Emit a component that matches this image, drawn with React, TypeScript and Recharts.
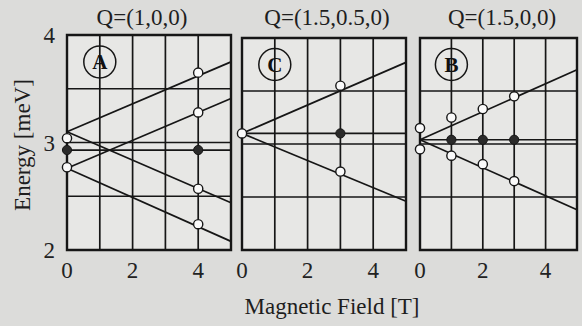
import { ComposedChart, Line, Scatter, XAxis, YAxis, CartesianGrid, ReferenceArea, ReferenceDot } from "recharts";

type Pt = { x: number; y: number };

// panel A, Q=(1,0,0)
const aLines: Pt[][] = [
  [{ x: 0, y: 3.1 }, { x: 5, y: 3.75 }],
  [{ x: 0, y: 2.76 }, { x: 5, y: 3.41 }],
  [{ x: 0, y: 3.1 }, { x: 5, y: 2.44 }],
  [{ x: 0, y: 2.76 }, { x: 5, y: 2.08 }],
  [{ x: 0, y: 2.93 }, { x: 5, y: 2.93 }],
];
const aOpen: Pt[] = [
  { x: 0, y: 3.04 }, { x: 0, y: 2.77 },
  { x: 4, y: 3.65 }, { x: 4, y: 3.28 }, { x: 4, y: 2.57 }, { x: 4, y: 2.24 },
];
const aFilled: Pt[] = [{ x: 0, y: 2.93 }, { x: 4, y: 2.93 }];

// panel C, Q=(1.5,0.5,0)
const cLines: Pt[][] = [
  [{ x: 0, y: 3.1 }, { x: 5, y: 3.77 }],
  [{ x: 0, y: 3.1 }, { x: 5, y: 3.1 }],
  [{ x: 0, y: 3.1 }, { x: 5, y: 2.46 }],
];
const cOpen: Pt[] = [{ x: 0, y: 3.1 }, { x: 3, y: 3.55 }, { x: 3, y: 2.74 }];
const cFilled: Pt[] = [{ x: 3, y: 3.1 }];

// panel B, Q=(1.5,0,0)
const bLines: Pt[][] = [
  [{ x: 0, y: 3.04 }, { x: 5, y: 3.7 }],
  [{ x: 0, y: 3.04 }, { x: 5, y: 3.04 }],
  [{ x: 0, y: 3.04 }, { x: 5, y: 2.38 }],
];
const bOpen: Pt[] = [
  { x: 0, y: 3.15 }, { x: 0, y: 2.95 },
  { x: 1, y: 3.25 }, { x: 2, y: 3.33 }, { x: 3, y: 3.45 },
  { x: 1, y: 2.89 }, { x: 2, y: 2.81 }, { x: 3, y: 2.65 },
];
const bFilled: Pt[] = [{ x: 1, y: 3.04 }, { x: 2, y: 3.04 }, { x: 3, y: 3.04 }];

const xTicks = [0, 1, 2, 3, 4, 5];
const yTicks = [2, 2.5, 3, 3.5, 4];
const INK = "#161616";
const FONT = "'Liberation Serif', 'DejaVu Serif', serif";
const FS = 23;

const openDot = (p: any) => <circle cx={p.cx} cy={p.cy} r={4.6} fill="#fafafa" stroke={INK} strokeWidth={1.4} />;
const filledDot = (p: any) => <circle cx={p.cx} cy={p.cy} r={4.6} fill="#2a2a2a" stroke={INK} strokeWidth={1} />;

type PanelProps = {
  left: number;
  top: number;
  width: number;
  margin: { top: number; right: number; bottom: number; left: number };
  showY: boolean;
  letter: string;
  lines: Pt[][];
  open: Pt[];
  filled: Pt[];
};

function Panel({ left, top, width, margin, showY, letter, lines, open, filled }: PanelProps) {
  return (
    <div style={{ position: "absolute", left, top }}>
      <ComposedChart width={width} height={290} margin={margin}>
        <CartesianGrid stroke={INK} strokeWidth={1.7} fill="#e7e7e5" fillOpacity={1} />
        <XAxis
          type="number"
          dataKey="x"
          domain={[0, 5]}
          ticks={xTicks}
          tickFormatter={(v: number) => (v % 2 === 0 && v < 5 ? String(v) : "")}
          axisLine={false}
          tickLine={false}
          tickSize={0}
          tickMargin={12}
          height={40}
          tick={{ fill: "#222", fontSize: FS, fontFamily: FONT }}
        />
        <YAxis
          type="number"
          dataKey="y"
          domain={[2, 4]}
          ticks={yTicks}
          tickFormatter={(v: number) => (Number.isInteger(v) ? String(v) : "")}
          hide={!showY}
          width={showY ? 67 : 0}
          axisLine={false}
          tickLine={false}
          tickSize={0}
          tickMargin={12}
          tick={{ fill: "#222", fontSize: FS, fontFamily: FONT }}
        />
        <ReferenceArea x1={0} x2={5} y1={2} y2={4} fill="none" stroke={INK} strokeWidth={2.4} />
        {lines.map((seg, i) => (
          <Line
            key={i}
            data={seg}
            dataKey="y"
            type="linear"
            stroke={INK}
            strokeWidth={1.7}
            dot={false}
            activeDot={false}
            isAnimationActive={false}
          />
        ))}
        <Scatter data={open} dataKey="y" shape={openDot} isAnimationActive={false} />
        <Scatter data={filled} dataKey="y" shape={filledDot} isAnimationActive={false} />
        <ReferenceDot
          x={1}
          y={3.75}
          r={16}
          fill="none"
          stroke={INK}
          strokeWidth={1.5}
          label={{ value: letter, position: "center", fill: "#111", fontSize: 21, fontWeight: 700, fontFamily: FONT }}
        />
      </ComposedChart>
    </div>
  );
}

const textStyle = { position: "absolute" as const, fontFamily: FONT, fontSize: FS, color: "#1e1e1e", whiteSpace: "nowrap" as const, lineHeight: 1 };

export default function App() {
  return (
    <div style={{ position: "absolute", left: 0, top: 0, width: 582, height: 326, background: "#dcdcda", overflow: "hidden", fontFamily: FONT }}>
      <Panel left={0} top={0} width={240} margin={{ top: 35, right: 9, bottom: 0, left: 0 }} showY letter="A" lines={aLines} open={aOpen} filled={aFilled} />
      <Panel left={230} top={0} width={188} margin={{ top: 38, right: 12, bottom: 0, left: 12 }} showY={false} letter="C" lines={cLines} open={cOpen} filled={cFilled} />
      <Panel left={408} top={0} width={174} margin={{ top: 38, right: 5, bottom: 0, left: 12 }} showY={false} letter="B" lines={bLines} open={bOpen} filled={bFilled} />
      <div style={{ ...textStyle, left: 142, top: 17, transform: "translate(-50%, -50%)" }}>Q=(1,0,0)</div>
      <div style={{ ...textStyle, left: 327, top: 17, transform: "translate(-50%, -50%)" }}>Q=(1.5,0.5,0)</div>
      <div style={{ ...textStyle, left: 502, top: 17, transform: "translate(-50%, -50%)" }}>Q=(1.5,0,0)</div>
      <div style={{ ...textStyle, left: 332, top: 306, transform: "translate(-50%, -50%)" }}>Magnetic Field [T]</div>
      <div style={{ ...textStyle, left: 22, top: 145, transform: "translate(-50%, -50%) rotate(-90deg)" }}>Energy [meV]</div>
    </div>
  );
}
